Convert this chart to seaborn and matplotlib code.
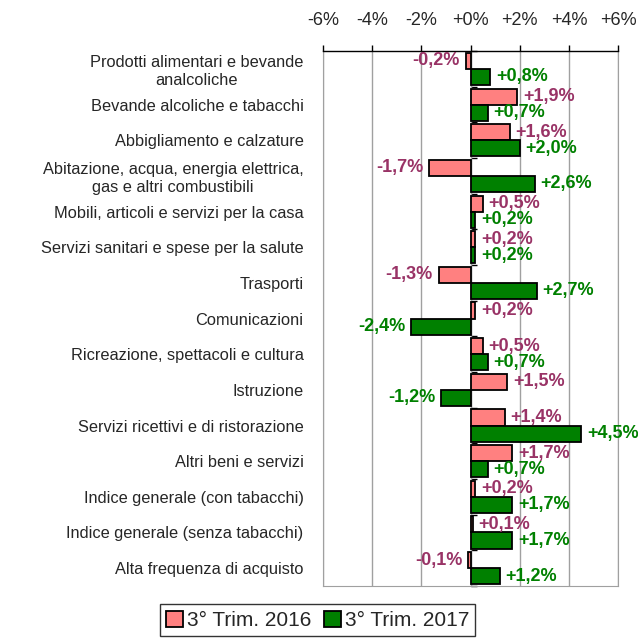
import pandas as pd
import matplotlib
matplotlib.use("Agg")
import matplotlib.pyplot as plt
import seaborn as sns

# --- DATA ---
categories = [
    "Prodotti alimentari e bevande\nanalcoliche",
    "Bevande alcoliche e tabacchi",
    "Abbigliamento e calzature",
    "Abitazione, acqua, energia elettrica,\ngas e altri combustibili",
    "Mobili, articoli e servizi per la casa",
    "Servizi sanitari e spese per la salute",
    "Trasporti",
    "Comunicazioni",
    "Ricreazione, spettacoli e cultura",
    "Istruzione",
    "Servizi ricettivi e di ristorazione",
    "Altri beni e servizi",
    "Indice generale (con tabacchi)",
    "Indice generale (senza tabacchi)",
    "Alta frequenza di acquisto",
]
series_names = ["3° Trim. 2016", "3° Trim. 2017"]
values_2016 = [-0.2, 1.9, 1.6, -1.7, 0.5, 0.2, -1.3, 0.2, 0.5, 1.5, 1.4, 1.7, 0.2, 0.1, -0.1]
values_2017 = [0.8, 0.7, 2.0, 2.6, 0.2, 0.2, 2.7, -2.4, 0.7, -1.2, 4.5, 0.7, 1.7, 1.7, 1.2]
x_ticks = [-6, -4, -2, 0, 2, 4, 6]

bar_colors = ["#FF8080", "#008000"]
label_colors = ["#993366", "#008000"]

df = pd.DataFrame({
    "categoria": categories * 2,
    "serie": [series_names[0]] * len(categories) + [series_names[1]] * len(categories),
    "valore": values_2016 + values_2017,
})

def fmt(v):
    return ("+" if v >= 0 else "-") + f"{abs(v):.1f}".replace(".", ",") + "%"

# --- PLOT ---
sns.set_style("white")
plt.rcParams["font.family"] = ["Liberation Sans", "DejaVu Sans"]

fig = plt.figure(figsize=(6.38, 6.39), dpi=100)
ax = fig.add_axes([0.506, 0.083, 0.463, 0.837])

sns.barplot(data=df, y="categoria", x="valore", hue="serie", orient="h",
            palette=bar_colors, width=0.9, edgecolor="black", linewidth=1.3,
            ax=ax, legend=True, saturation=1)

for cont, vals, col in zip(ax.containers, [values_2016, values_2017], label_colors):
    ax.bar_label(cont, labels=[fmt(v) for v in vals], padding=4, color=col,
                 fontsize=13, fontweight="bold")

ax.set_xlim(-6, 6)
ax.set_ylim(len(categories) - 0.5, -0.5)
ax.set_xticks(x_ticks)
ax.set_xticklabels([fmt(t).replace(",0", "") for t in x_ticks], fontsize=13)
ax.xaxis.set_ticks_position("top")
ax.tick_params(axis="x", direction="out", length=4, width=1, color="black", pad=12)
ax.tick_params(axis="y", length=0, labelsize=11.8, pad=14)
for lab in ax.get_yticklabels():
    lab.set_multialignment("center")
ax.set_xlabel("")
ax.set_ylabel("")
ax.grid(axis="x", color="#A0A0A0", linewidth=1)
ax.set_axisbelow(True)
for side in ["left", "right", "bottom"]:
    ax.spines[side].set_color("#A0A0A0")
ax.spines["top"].set_color("black")
ax.spines["top"].set_linewidth(1)

# zero axis with small ticks between groups
sec = ax.secondary_yaxis(0.5)
sec.set_yticks([i + 0.5 for i in range(-1, len(categories))])
sec.set_yticklabels([])
sec.tick_params(length=4, width=1, color="black")
sec.spines["left"].set_color("black")

handles, labels = ax.get_legend_handles_labels()
ax.get_legend().remove()
leg = fig.legend(handles, labels, loc="upper center", bbox_to_anchor=(0.498, 0.054),
                 ncol=2, fontsize=15, frameon=True, fancybox=False,
                 edgecolor="black", handlelength=0.8, handleheight=0.8,
                 handletextpad=0.2, columnspacing=0.6, borderpad=0.3,
                 borderaxespad=0)
leg.get_frame().set_linewidth(1)

fig.savefig("out.png", dpi=100)
